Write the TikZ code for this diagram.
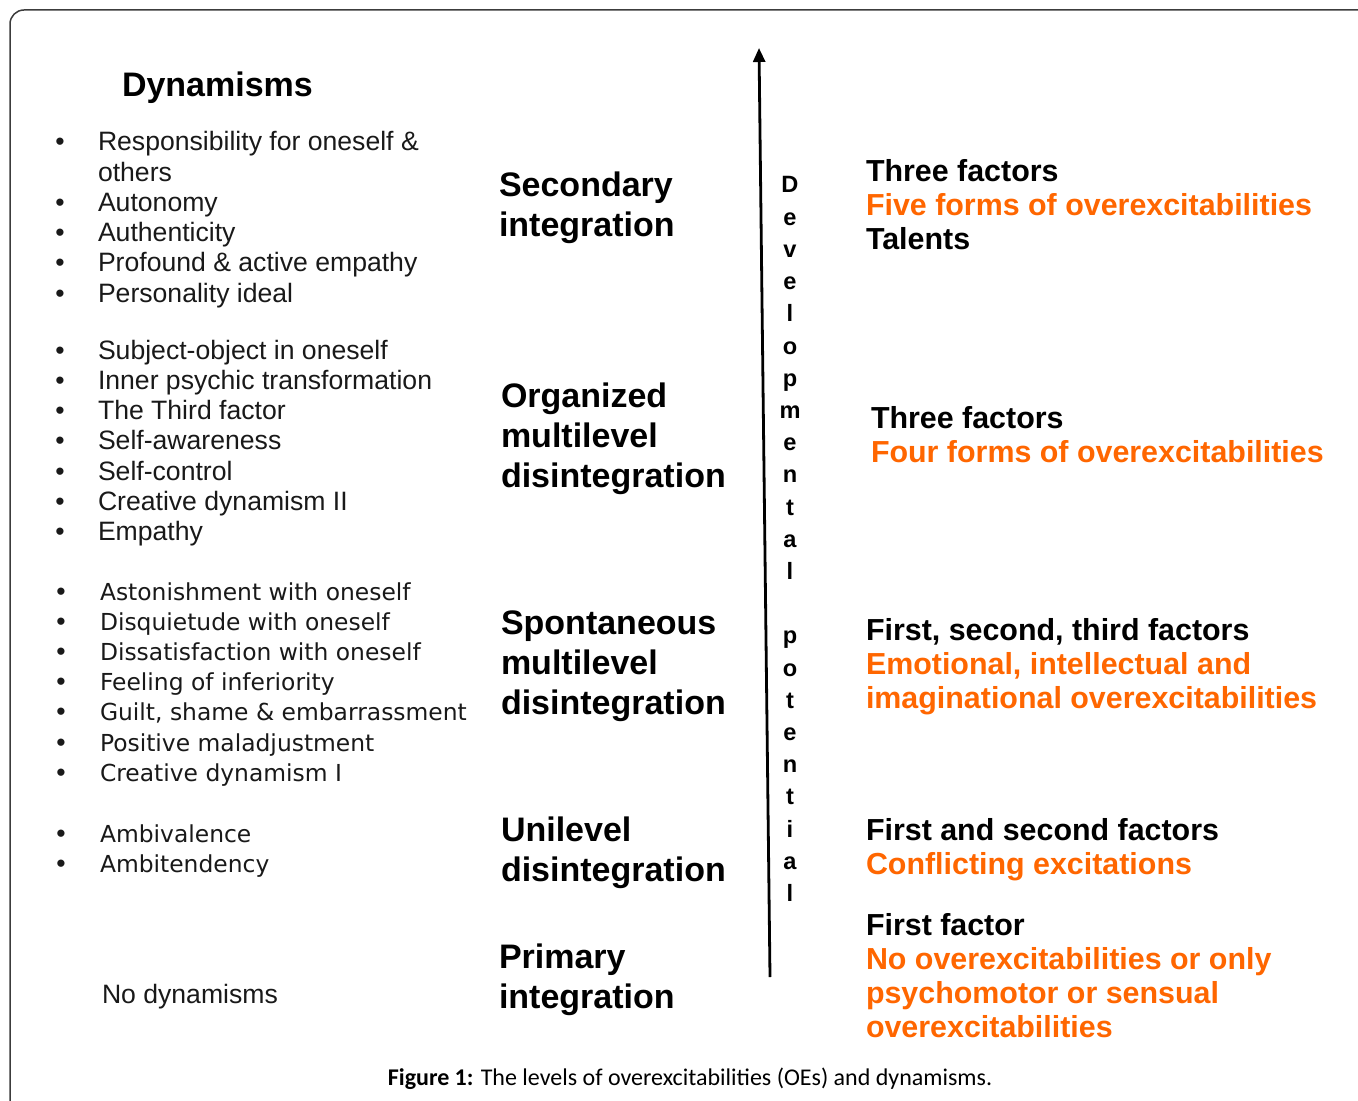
\documentclass[tikz,border=0pt]{standalone}
\usepackage{fontspec}
\setmainfont{Liberation Sans}
\newfontfamily\tahoma{DejaVu Sans}
\newfontfamily\calibri{Carlito}
\usetikzlibrary{arrows.meta}
\definecolor{oeorange}{RGB}{255,102,0}
\definecolor{framegray}{RGB}{60,60,60}
\begin{document}
\begin{tikzpicture}[x=0.5pt,y=-0.5pt,
  every node/.style={inner sep=0pt,outer sep=0pt},
  dyn/.style={anchor=base west,font=\fontsize{13.3}{16}\selectfont,text=black!90},
  tah/.style={anchor=base west,font=\tahoma\fontsize{11.7}{14}\selectfont,text=black!90},
  bul/.style={anchor=base,font=\fontsize{13.3}{16}\selectfont,text=black!90},
  lvl/.style={anchor=base west,font=\bfseries\fontsize{17}{20}\selectfont},
  fac/.style={anchor=base west,font=\bfseries\fontsize{15.2}{18}\selectfont},
  oe/.style={fac,text=oeorange},
  vlet/.style={anchor=base,font=\bfseries\fontsize{11.8}{14}\selectfont},
  frame/.style={draw=framegray,line width=0.75pt,rounded corners=7pt}]
\useasboundingbox (0,0) rectangle (1358,1101);
\draw[frame] (1380,1125) -- (10,1125) -- (10,10) -- (1380,10);

% title
\node[lvl] (title) at (122,97) {Dynamisms};

% group 1
\node[bul] (g1b1) at (60,151) {•};
\node[dyn] (g1t1) at (98,151) {Responsibility for oneself \&};
\node[dyn] (g1t1b) at (98,182) {others};
\node[bul] (g1b2) at (60,212) {•};
\node[dyn] (g1t2) at (98,212) {Autonomy};
\node[bul] (g1b3) at (60,242) {•};
\node[dyn] (g1t3) at (98,242) {Authenticity};
\node[bul] (g1b4) at (60,272) {•};
\node[dyn] (g1t4) at (98,272) {Profound \& active empathy};
\node[bul] (g1b5) at (60,303) {•};
\node[dyn] (g1t5) at (98,303) {Personality ideal};

% group 2
\foreach \t [count=\i] in {Subject-object in oneself,Inner psychic transformation,The Third factor,Self-awareness,Self-control,Creative dynamism II,Empathy}{
  \node[bul] (g2b\i) at (60,{359+30.3*(\i-1)}) {•};
  \node[dyn] (g2t\i) at (98,{359+30.3*(\i-1)}) {\t};
}

% group 3
\foreach \t [count=\i] in {Astonishment with oneself,Disquietude with oneself,Dissatisfaction with oneself,Feeling of inferiority,{Guilt, shame \& embarrassment},Positive maladjustment,Creative dynamism I}{
  \node[bul] (g3b\i) at (61,{600+30.2*(\i-1)}) {•};
  \node[tah] (g3t\i) at (100,{600+30.2*(\i-1)}) {\t};
}

% group 4
\node[bul] (g4b1) at (61,842) {•};
\node[tah] (g4t1) at (100,842) {Ambivalence};
\node[bul] (g4b2) at (61,872) {•};
\node[tah] (g4t2) at (100,872) {Ambitendency};

\node[dyn] (nodyn) at (102,1003) {No dynamisms};

% levels
\node[lvl] (l1a) at (499,197) {Secondary};
\node[lvl] (l1b) at (499,237) {integration};
\node[lvl] (l2a) at (501,407) {Organized};
\node[lvl] (l2b) at (501,447) {multilevel};
\node[lvl] (l2c) at (501,487) {disintegration};
\node[lvl] (l3a) at (501,634) {Spontaneous};
\node[lvl] (l3b) at (501,674) {multilevel};
\node[lvl] (l3c) at (501,714) {disintegration};
\node[lvl] (l4a) at (501,841) {Unilevel};
\node[lvl] (l4b) at (501,881) {disintegration};
\node[lvl] (l5a) at (499,968) {Primary};
\node[lvl] (l5b) at (499,1008) {integration};

% arrow
\coordinate (abot) at (770,977);
\coordinate (atop) at (759,48);
\draw[line width=1.4pt,-{Triangle[length=7pt,width=6pt]}] (abot) -- (atop);

% vertical text
\foreach \c [count=\i] in {D,e,v,e,l,o,p,m,e,n,t,a,l}{
  \node[vlet] (va\i) at (790,{193+32.2*(\i-1)}) {\c};
}
\foreach \c [count=\i] in {p,o,t,e,n,t,i,a,l}{
  \node[vlet] (vb\i) at (790,{193+32.2*(\i+13)}) {\c};
}

% right column
\node[fac] (r1a) at (866,182) {Three factors};
\node[oe]  (r1b) at (866,216) {Five forms of overexcitabilities};
\node[fac] (r1c) at (866,250) {Talents};
\node[fac] (r2a) at (871,428) {Three factors};
\node[oe]  (r2b) at (871,462) {Four forms of overexcitabilities};
\node[fac] (r3a) at (866,640) {First, second, third factors};
\node[oe]  (r3b) at (866,674) {Emotional, intellectual and};
\node[oe]  (r3c) at (866,708) {imaginational overexcitabilities};
\node[fac] (r4a) at (866,840) {First and second factors};
\node[oe]  (r4b) at (866,874) {Conflicting excitations};
\node[fac] (r5a) at (866,935) {First factor};
\node[oe]  (r5b) at (866,969) {No overexcitabilities or only};
\node[oe]  (r5c) at (866,1003) {psychomotor or sensual};
\node[oe]  (r5d) at (866,1037) {overexcitabilities};

% caption
\node[anchor=base,font=\calibri\fontsize{12}{14}\selectfont] (cap) at (690,1085) {\textbf{Figure 1:} The levels of overexcitabilities (OEs) and dynamisms.};
\end{tikzpicture}
\end{document}
